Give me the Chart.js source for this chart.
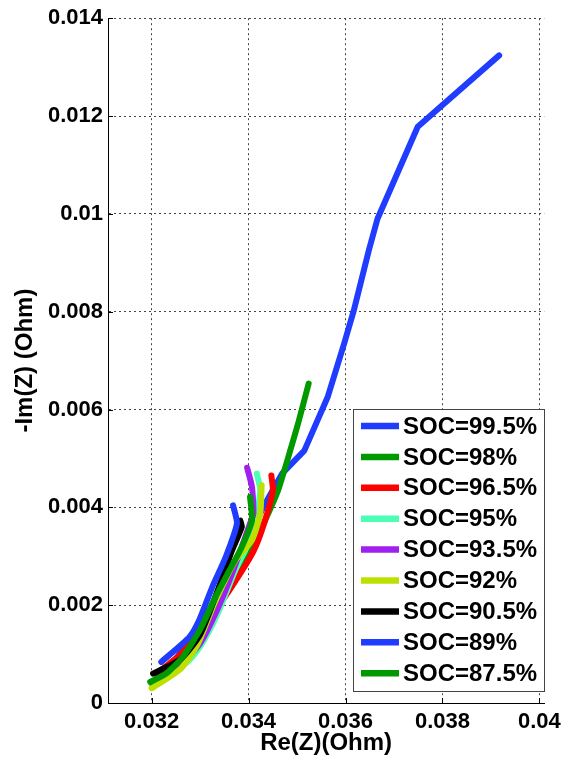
<!DOCTYPE html>
<html>
<head>
<meta charset="utf-8">
<script src="https://cdn.jsdelivr.net/npm/chart.js@4.4.0/dist/chart.umd.min.js"></script>
<style>
  body { margin: 0; background: #fff; }
  #wrap { width: 567px; height: 758px; }
</style>
</head>
<body>
<div id="wrap"><canvas id="nyquist" width="567" height="758"></canvas></div>
<script>
// series names and colours (same order as the legend)
var socLabels = ['SOC=99.5%', 'SOC=98%', 'SOC=96.5%', 'SOC=95%', 'SOC=93.5%', 'SOC=92%', 'SOC=90.5%', 'SOC=89%', 'SOC=87.5%'];
var socColors = ['#1f3cff', '#009a00', '#ff0000', '#4dffb4', '#a020f0', '#bde000', '#000000', '#1f3cff', '#009a00'];

// Re(Z) / -Im(Z)
var re995 = [0.0321, 0.0325, 0.0330, 0.0335, 0.0339, 0.0343, 0.0347, 0.03515, 0.03563, 0.03597, 0.03617, 0.03648, 0.03666, 0.03749, 0.03917];
var im995 = [0.0005, 0.0009, 0.0016, 0.0024, 0.0031, 0.0040, 0.0047, 0.00516, 0.00625, 0.00734, 0.00802, 0.00925, 0.0099, 0.01178, 0.01324];
var re98 = [0.0320, 0.0325, 0.0330, 0.0335, 0.0340, 0.03434, 0.03461, 0.03488, 0.03502, 0.03524];
var im98 = [0.0004, 0.0008, 0.0014, 0.0022, 0.0030, 0.00373, 0.00435, 0.00523, 0.00571, 0.00653];
var re965 = [0.0321, 0.0326, 0.0331, 0.0336, 0.0341, 0.03434, 0.0345, 0.03447];
var im965 = [0.0006, 0.0010, 0.0016, 0.0023, 0.0031, 0.00373, 0.00435, 0.00465];
var re95 = [0.0321, 0.03275, 0.0330, 0.03335, 0.03372, 0.0341, 0.03424, 0.03417];
var im95 = [0.0004, 0.00085, 0.00115, 0.0018, 0.0027, 0.0035, 0.00435, 0.00469];
var re935 = [0.0321, 0.03255, 0.0330, 0.03335, 0.03368, 0.03403, 0.0341, 0.03407, 0.03397];
var im935 = [0.0004, 0.00072, 0.00122, 0.0019, 0.0027, 0.00367, 0.00387, 0.00442, 0.00481];
var re92 = [0.0320, 0.0326, 0.03295, 0.0333, 0.03372, 0.03407, 0.03424, 0.03427];
var im92 = [0.0003, 0.0007, 0.0012, 0.00205, 0.0029, 0.00333, 0.00387, 0.00445];
var re905 = [0.03203, 0.0326, 0.0330, 0.0334, 0.03365, 0.03386, 0.03383];
var im905 = [0.0006, 0.0009, 0.0014, 0.0024, 0.0031, 0.0036, 0.00373];
var re89 = [0.0322, 0.03278, 0.03298, 0.03325, 0.03353, 0.03376, 0.03368];
var im89 = [0.00084, 0.00135, 0.00169, 0.00237, 0.00299, 0.00367, 0.00404];
var re875 = [0.03197, 0.0323, 0.03264, 0.0330, 0.03332, 0.0336, 0.03386, 0.03407, 0.03403];
var im875 = [0.00043, 0.0006, 0.00094, 0.0015, 0.00217, 0.0027, 0.00319, 0.00373, 0.00421];

var reSeries = [re995, re98, re965, re95, re935, re92, re905, re89, re875];
var imSeries = [im995, im98, im965, im95, im935, im92, im905, im89, im875];

// axis ticks
var xTicks = [0.032, 0.034, 0.036, 0.038, 0.04];
var yTicks = [0, 0.002, 0.004, 0.006, 0.008, 0.01, 0.012, 0.014];

var tickFont = { family: 'Arial, "Liberation Sans", sans-serif', size: 22, weight: 'bold' };
var titleFont = { family: 'Arial, "Liberation Sans", sans-serif', size: 24, weight: 'bold' };

function buildDatasets() {
    return socLabels.map(function (lbl, i) {
        return {
            label: lbl,
            data: reSeries[i].map(function (x, k) { return { x: x, y: imSeries[i][k] }; }),
            showLine: true,
            borderColor: socColors[i],
            backgroundColor: socColors[i],
            borderWidth: 6,
            pointRadius: 0,
            borderJoinStyle: 'round',
            borderCapStyle: 'round',
            tension: i === 0 ? 0 : 0.2,
            order: socLabels.length - i // last series ends up on top, like matlab
        };
    });
}

// small inward tick marks (matlab style)
var innerTicks = {
    id: 'innerTicks',
    afterDatasetsDraw: function (chart) {
        var ctx = chart.ctx, a = chart.chartArea;
        var xs = chart.scales.x, ys = chart.scales.y;
        ctx.save();
        ctx.strokeStyle = '#000';
        ctx.lineWidth = 1;
        ctx.beginPath();
        xTicks.forEach(function (v) {
            var px = Math.round(xs.getPixelForValue(v)) + 0.5;
            ctx.moveTo(px, a.bottom); ctx.lineTo(px, a.bottom - 5);
        });
        yTicks.forEach(function (v) {
            var py = Math.round(ys.getPixelForValue(v)) + 0.5;
            ctx.moveTo(a.left, py); ctx.lineTo(a.left + 5, py);
        });
        ctx.stroke();
        ctx.restore();
    }
};

// legend box inside the plot, bottom right
var boxLegend = {
    id: 'boxLegend',
    afterDraw: function (chart) {
        var ctx = chart.ctx;
        var bx = 353.5, by = 409.5, bw = 191, bh = 282;
        ctx.save();
        ctx.fillStyle = '#fff';
        ctx.fillRect(bx, by, bw, bh);
        ctx.strokeStyle = '#444';
        ctx.lineWidth = 1;
        ctx.strokeRect(bx, by, bw, bh);
        ctx.font = 'bold 24px Arial, "Liberation Sans", sans-serif';
        ctx.textBaseline = 'middle';
        chart.data.datasets.forEach(function (ds, i) {
            var cy = 426 + i * 30.9;
            ctx.strokeStyle = ds.borderColor;
            ctx.lineWidth = 6.5;
            ctx.beginPath();
            ctx.moveTo(361, cy);
            ctx.lineTo(399, cy);
            ctx.stroke();
            ctx.fillStyle = '#000';
            ctx.fillText(ds.label, 403, cy + 1);
        });
        ctx.restore();
    }
};

function drawChart() {
    var ctx = document.getElementById('nyquist').getContext('2d');
    new Chart(ctx, {
        type: 'scatter',
        data: { datasets: buildDatasets() },
        options: {
            responsive: false,
            animation: false,
            devicePixelRatio: 1,
            layout: { padding: { left: 0, top: 17, right: 17, bottom: 0 } },
            plugins: {
                legend: { display: false },
                tooltip: { enabled: false }
            },
            scales: {
                x: {
                    type: 'linear',
                    min: 0.0311,
                    max: 0.0401,
                    afterBuildTicks: function (s) { s.ticks = xTicks.map(function (v) { return { value: v }; }); },
                    afterFit: function (s) { s.height = 55; },
                    grid: { color: '#444', drawTicks: false },
                    border: { display: true, color: '#000', width: 1, dash: [2, 3] },
                    ticks: {
                        color: '#000',
                        font: tickFont,
                        padding: 6,
                        maxRotation: 0,
                        callback: function (v) { return String(v); }
                    },
                    title: {
                        display: true,
                        text: 'Re(Z)(Ohm)',
                        color: '#000',
                        font: titleFont,
                        padding: { top: 0, bottom: 0 }
                    }
                },
                y: {
                    type: 'linear',
                    min: 0,
                    max: 0.014,
                    afterBuildTicks: function (s) { s.ticks = yTicks.map(function (v) { return { value: v }; }); },
                    afterFit: function (s) { s.width = 108; },
                    grid: { color: '#444', drawTicks: false },
                    border: { display: true, color: '#000', width: 1, dash: [2, 3] },
                    ticks: {
                        color: '#000',
                        font: tickFont,
                        padding: 5,
                        callback: function (v) { return String(v); }
                    },
                    title: {
                        display: true,
                        text: '-Im(Z) (Ohm)',
                        color: '#000',
                        font: titleFont,
                        padding: { top: 11, bottom: 0 }
                    }
                }
            }
        },
        plugins: [innerTicks, boxLegend]
    });
}

document.addEventListener('DOMContentLoaded', drawChart);
</script>
</body>
</html>
